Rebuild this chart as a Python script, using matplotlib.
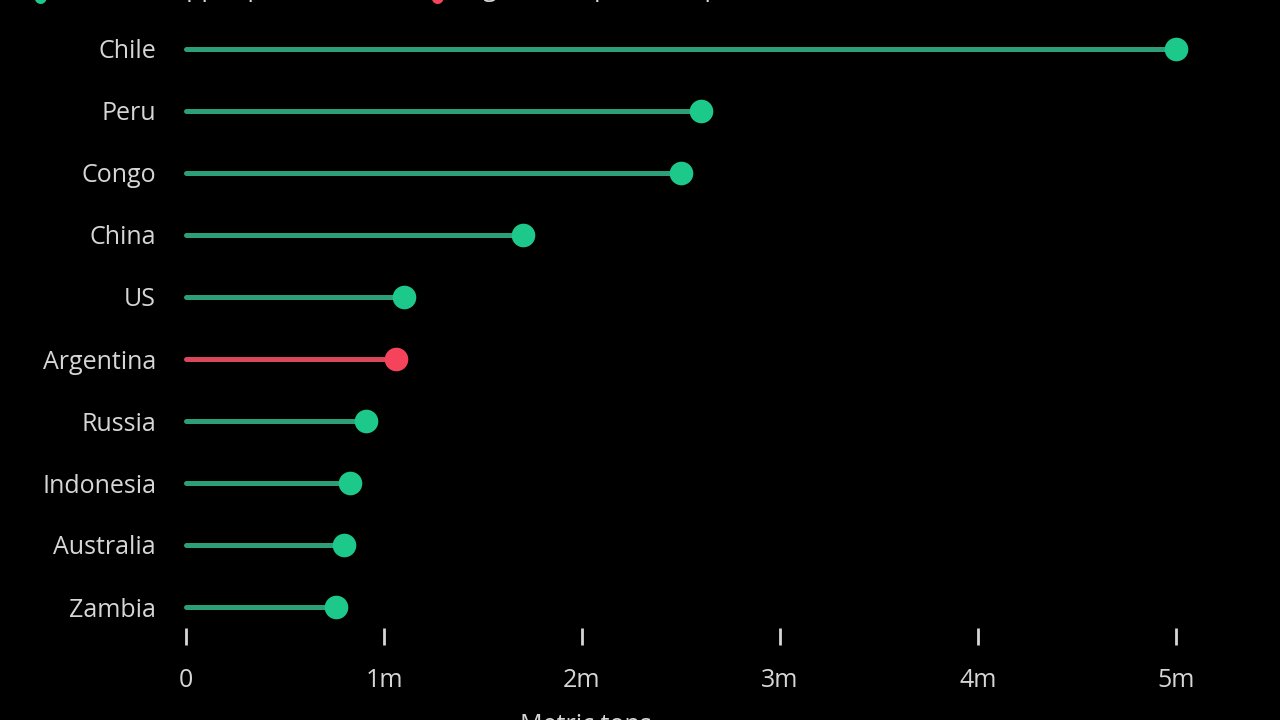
import matplotlib.pyplot as plt
from matplotlib.ticker import FuncFormatter

countries = ["Chile", "Peru", "Congo", "China", "US", "Argentina",
             "Russia", "Indonesia", "Australia", "Zambia"]
# million metric tons
production = [5.0, 2.6, 2.5, 1.7, 1.1, 1.06, 0.91, 0.83, 0.80, 0.76]
is_argentina = [c == "Argentina" for c in countries]

GREEN_DOT = "#1cc98a"
GREEN_LINE = "#2c9f78"
RED_DOT = "#f5435c"
RED_LINE = "#d9475a"
TEXT = "#d6d6d6"

plt.rcParams["font.family"] = ["Open Sans", "DejaVu Sans"]

fig = plt.figure(figsize=(12.8, 7.2), dpi=100, facecolor="black")
W, H = 1280, 720
# axes box in pixels: x 170..1230, y 20..628
ax = fig.add_axes([170 / W, 1 - 628 / H, 1060 / W, 608 / H], facecolor="black")

for i, (val, arg) in enumerate(zip(production, is_argentina)):
    lc = RED_LINE if arg else GREEN_LINE
    dc = RED_DOT if arg else GREEN_DOT
    ax.plot([0, val], [i, i], color=lc, lw=3.6, solid_capstyle="round", zorder=2)
    ax.plot(val, i, "o", color=dc, markersize=17, markeredgewidth=0, zorder=3)

ax.set_xlim(-16 / 198, 1044 / 198)
ax.set_ylim((628 - 49) / 62, -29 / 62)

ax.set_yticks(range(len(countries)))
ax.set_yticklabels(countries)
ax.tick_params(axis="y", length=0, pad=10, labelsize=18, labelcolor=TEXT)

ax.set_xticks([0, 1, 2, 3, 4, 5])
ax.xaxis.set_major_formatter(FuncFormatter(lambda v, p: "0" if v == 0 else f"{int(v)}m"))
ax.tick_params(axis="x", length=12, width=2, color=TEXT, pad=17,
               labelsize=18, labelcolor=TEXT, direction="out")

for s in ax.spines.values():
    s.set_visible(False)

# legend at top, cut off by the frame edge
fig.text(40 / W, 1 + 1 / H, "●", color=GREEN_DOT, fontsize=11, ha="center", va="center")
fig.text(63 / W, 1 + 10 / H, "Current copper production", color=TEXT,
         fontsize=18, ha="left", va="center")
fig.text(437 / W, 1 + 1 / H, "●", color=RED_DOT, fontsize=11, ha="center", va="center")
fig.text(457 / W, 1 + 10 / H, "Argentina's potential production in 2030", color=TEXT,
         fontsize=18, ha="left", va="center")

# x-axis title, mostly below the frame
fig.text(520 / W, 1 - 713 / H, "Metric tons", color=TEXT, fontsize=18,
         ha="left", va="top")

fig.savefig("out.png", dpi=100, facecolor="black")
